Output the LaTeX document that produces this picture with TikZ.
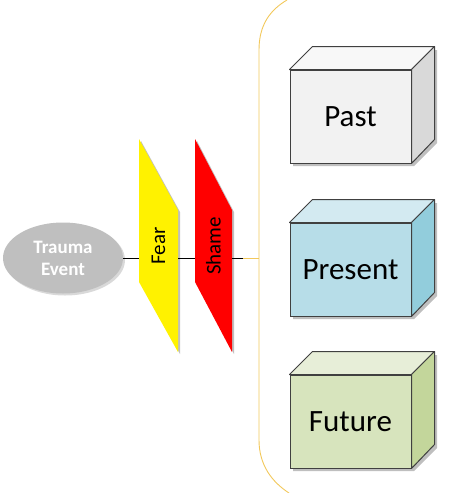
\documentclass[tikz,border=0pt]{standalone}
\usepackage{fontspec}
\setmainfont{Carlito}
\usetikzlibrary{shapes.geometric,shadows,calc}
\definecolor{bracecol}{HTML}{F2C85B}
\definecolor{edgecol}{HTML}{404040}
\definecolor{pastF}{HTML}{F2F2F2}\definecolor{pastT}{HTML}{F8F8F8}\definecolor{pastS}{HTML}{D9D9D9}
\definecolor{presF}{HTML}{B7DDE8}\definecolor{presT}{HTML}{D3EAF1}\definecolor{presS}{HTML}{92CDDC}
\definecolor{futF}{HTML}{D7E4BD}\definecolor{futT}{HTML}{E7EED8}\definecolor{futS}{HTML}{C3D69B}
\tikzset{
  front/.style={draw=edgecol, line width=1pt, minimum width=121pt, minimum height=93pt, inner sep=0pt, font=\fontsize{31}{36}\selectfont},
  face/.style={draw=edgecol, line width=1pt, line join=round},
  shade/.style={fill=black, opacity=0.25},
  conn/.style={draw=black, line width=0.8pt},
  bracepath/.style={draw=bracecol, line width=0.9pt},
  band/.style={font=\fontsize{21}{25}\selectfont, rotate=90, inner sep=0pt}
}
\begin{document}
\begin{tikzpicture}[x=1pt,y=-1pt]
\useasboundingbox (0,0) rectangle (451,493);
% trauma ellipse
\node[ellipse, fill={rgb,255:red,191;green,191;blue,191}, minimum width=120pt, minimum height=71pt, inner sep=0pt,
  text=white, font=\bfseries\fontsize{19}{22}\selectfont, align=center,
  drop shadow={shadow xshift=2pt, shadow yshift=-2pt, opacity=0.3}] (trauma) at (63,258) {Trauma\\Event};
% Fear band
\fill[shade] (141,141) -- (180,212) -- (180,354) -- (141,284) -- cycle;
\fill[yellow] (139,139) -- (178,210) -- (178,352) -- (139,282) -- cycle;
\node[band] (fear) at (158.5,246) {Fear};
\coordinate (fearL) at (139,258);
\coordinate (fearR) at (178,258);
% Shame band
\fill[shade] (197,141) -- (234,212) -- (234,354) -- (197,284) -- cycle;
\fill[red] (195,139) -- (232,210) -- (232,352) -- (195,282) -- cycle;
\node[band] (shame) at (213.5,246) {Shame};
\coordinate (shameL) at (195,258);
\coordinate (shameR) at (232,258);
% brace
\coordinate (tip) at (243,258);
\coordinate (mid) at (259,258);
\draw[bracepath] (287,0) .. controls (270,10) and (259,25) .. (259,50) -- (259,440) .. controls (259,465) and (272,482) .. (289,493);
\draw[bracepath] (tip) -- (mid);
% connectors
\draw[conn] (trauma.east) -- (fearL);
\draw[conn] (fearR) -- (shameL);
\draw[conn] (shameR) -- (tip);
% cubes
\foreach \nm/\txt/\cy/\cf/\ct/\cs in {past/Past/116.5/pastF/pastT/pastS, present/Present/269.5/presF/presT/presS, future/Future/421.5/futF/futT/futS}{
  \fill[shade] (293,{\cy-43.5}) -- ++(23,-23) -- ++(121,0) -- ++(0,93) -- ++(-23,23) -- ++(-121,0) -- cycle;
  \node[front, fill=\cf] (\nm) at (350.5,\cy) {\txt};
  \draw[face, fill=\ct] (\nm.north west) -- ++(23,-23) -- ($(\nm.north east)+(23,-23)$) -- (\nm.north east) -- cycle;
  \draw[face, fill=\cs] (\nm.north east) -- ++(23,-23) -- ++(0,93) -- (\nm.south east) -- cycle;
}
\end{tikzpicture}
\end{document}
